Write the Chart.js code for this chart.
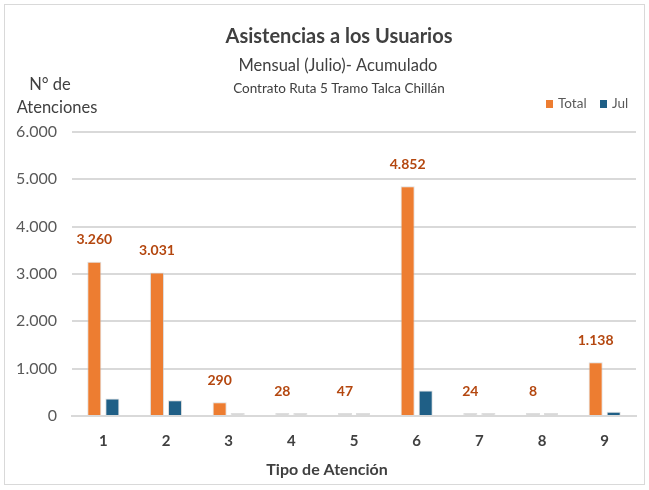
<!DOCTYPE html>
<html>
<head>
<meta charset="utf-8">
<script src="https://cdn.jsdelivr.net/npm/chart.js@4"></script>
<style>
  body { margin: 0; background: #fff; }
</style>
</head>
<body>
<canvas id="myChart" width="649" height="490"></canvas>
<script>
const categories = ["1", "2", "3", "4", "5", "6", "7", "8", "9"];
const totalValues = [3260, 3031, 290, 28, 47, 4852, 24, 8, 1138];
const julValues = [370, 335, 30, 4, 6, 540, 3, 1, 90];
const yTicks = [0, 1000, 2000, 3000, 4000, 5000, 6000];

const orange = "#ED7D31";
const blue = "#1F5F86";
const grey = "#D9D9D9";
const labelColor = "#B4470F";
const textColor = "#404040";
const font = "Lato, 'Liberation Sans', sans-serif";

// very small bars show in light grey, as in the source sheet
const totalColors = totalValues.map((v) => (v < 100 ? grey : orange));
const julColors = julValues.map((v) => (v < 50 ? grey : blue));

function fmt(v) {
  return String(v).replace(/\B(?=(\d{3})+(?!\d))/g, ".");
}

// titles, legend, axis captions and value labels
const extras = {
  id: "extras",
  afterDraw(chart) {
    const ctx = chart.ctx;
    ctx.save();
    ctx.strokeStyle = "#D9D9D9";
    ctx.lineWidth = 1;
    ctx.strokeRect(4.5, 4.5, 640, 480);

    ctx.textAlign = "center";
    ctx.textBaseline = "middle";
    ctx.fillStyle = textColor;
    ctx.font = "bold 20px " + font;
    ctx.fillText("Asistencias a los Usuarios", 339, 37);
    ctx.font = "16.5px " + font;
    ctx.fillText("Mensual (Julio)- Acumulado", 338, 66);
    ctx.font = "13.5px " + font;
    ctx.fillText("Contrato Ruta 5 Tramo Talca Chillán", 339, 89);

    // y axis caption, two lines
    ctx.font = "16.5px " + font;
    ctx.fillText("N° de", 50, 85);
    ctx.fillText("Atenciones", 57, 108);

    // x axis caption
    ctx.font = "bold 16px " + font;
    ctx.fillText("Tipo de Atención", 327, 470);

    // legend
    ctx.textAlign = "left";
    ctx.font = "13.5px " + font;
    ctx.fillStyle = orange;
    ctx.fillRect(546, 100, 7, 8);
    ctx.fillStyle = blue;
    ctx.fillRect(600, 100, 7, 8);
    ctx.fillStyle = "#595959";
    ctx.fillText(chart.data.datasets[0].label, 558, 104);
    ctx.fillText(chart.data.datasets[1].label, 612, 104);

    // value labels over the Total bars
    ctx.textAlign = "center";
    const meta = chart.getDatasetMeta(0);
    ctx.fillStyle = labelColor;
    ctx.font = "bold 14px " + font;
    meta.data.forEach((bar, i) => {
      ctx.fillText(fmt(totalValues[i]), bar.x, bar.y - 22);
    });
    ctx.restore();
  },
};

const ctx = document.getElementById("myChart").getContext("2d");
const data = {
  labels: categories,
  datasets: [
    {
      label: "Total",
      data: totalValues,
      backgroundColor: totalColors,
      borderColor: "rgba(200,200,200,0.6)",
      borderWidth: 1,
      minBarLength: 3,
      categoryPercentage: 0.576,
      barPercentage: 0.78,
    },
    {
      label: "Jul",
      data: julValues,
      backgroundColor: julColors,
      borderColor: "rgba(200,200,200,0.6)",
      borderWidth: 1,
      minBarLength: 3,
      categoryPercentage: 0.576,
      barPercentage: 0.78,
    },
  ],
};
const config = {
  type: "bar",
  data: data,
  plugins: [extras],
  options: {
    responsive: false,
    animation: false,
    layout: {
      padding: { left: 14, right: 13, top: 132, bottom: 40 },
    },
    plugins: {
      legend: { display: false },
      tooltip: { enabled: false },
    },
    scales: {
      x: {
        grid: { display: false, drawTicks: false },
        border: { color: "#D9D9D9", width: 2 },
        afterFit: (axis) => {
          axis.height = 34;
        },
        ticks: {
          color: textColor,
          padding: 16,
          font: { family: font, size: 15, weight: "bold" },
        },
      },
      y: {
        min: 0,
        max: 6000,
        afterBuildTicks: (axis) => {
          axis.ticks = yTicks.map((v) => ({ value: v }));
        },
        afterFit: (axis) => {
          axis.width = 58;
        },
        grid: { color: "#D9D9D9", lineWidth: 2, drawTicks: false },
        border: { display: false },
        ticks: {
          color: "#595959",
          padding: 15,
          font: { family: font, size: 16 },
          callback: (v) => fmt(v),
        },
      },
    },
  },
};
const myChart = new Chart(ctx, config);
</script>
</body>
</html>
